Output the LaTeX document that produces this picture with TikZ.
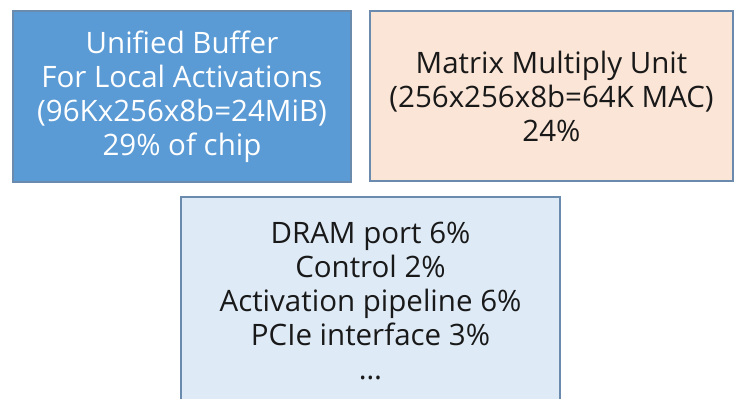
\documentclass[tikz,border=0pt]{standalone}
\usepackage{fontspec}
\setmainfont{Open Sans}
\usepackage{tikz}
\usetikzlibrary{positioning}

\definecolor{ubfill}{HTML}{5B9BD5}
\definecolor{mmufill}{HTML}{FBE5D6}
\definecolor{miscfill}{HTML}{DEEBF7}
\definecolor{edge}{HTML}{6A8AAE}

\begin{document}
\begin{tikzpicture}[x=1pt, y=1pt,
  area/.style={rectangle, draw=edge, line width=1.6pt, align=center, inner sep=0pt, font=\fontsize{29.5}{34}\selectfont},
  ]
\useasboundingbox (0,0) rectangle (734,-399);
\clip (0,0) rectangle (734,-399);
% unified buffer
\node[area, fill=ubfill, text=white, minimum width=338pt, minimum height=171pt] (ub) at (182,-96.5)
  {Unified Buffer\\ For Local Activations\\ (96Kx256x8b=24MiB)\\ 29\% of chip};
% matrix unit
\node[area, fill=mmufill, text=black!90, minimum width=363pt, minimum height=170pt] (mmu) at (551.5,-96)
  {Matrix Multiply Unit\\ (256x256x8b=64K MAC)\\ 24\%};
% remaining parts
\node[area, fill=miscfill, text=black!90, minimum width=379pt, minimum height=208pt] (misc) at (370.5,-301)
  {DRAM port 6\%\\ Control 2\%\\ Activation pipeline 6\%\\ PCIe interface 3\%\\ \dots};
\end{tikzpicture}
\end{document}
